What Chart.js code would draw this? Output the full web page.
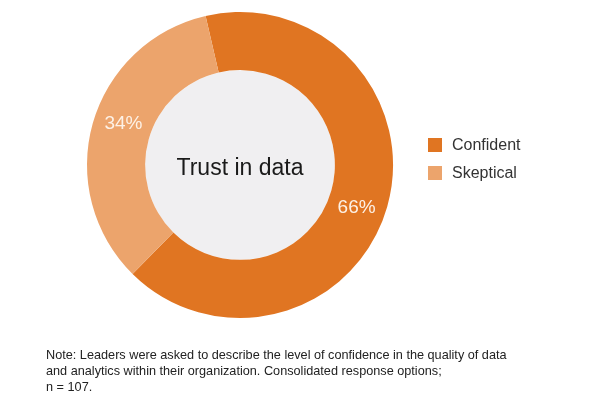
<!DOCTYPE html>
<html>
<head>
<meta charset="utf-8">
<script src="https://cdn.jsdelivr.net/npm/chart.js@4/dist/chart.umd.min.js"></script>
<style>
  html, body { margin: 0; padding: 0; background: #ffffff; }
  #wrap { position: relative; width: 600px; height: 396px; overflow: hidden; }
  #c { position: absolute; left: 0; top: 0; }
  #note { position: absolute; left: 46px; top: 347px; width: 540px;
          font-family: "Liberation Sans", Arial, sans-serif; font-size: 12.7px;
          line-height: 16px; color: #222; }
</style>
</head>
<body>
<div id="wrap">
  <canvas id="c" width="600" height="396"></canvas>
  <div id="note">Note: Leaders were asked to describe the level of confidence in the quality of data<br>and analytics within their organization. Consolidated response options;<br>n = 107.</div>
</div>
<script>
const categories = ["Confident", "Skeptical"];
const shares = [66, 34];
const valueLabels = ["66%", "34%"];
const centerTitle = "Trust in data";
const sliceColors = ["#e07522", "#eca46c"];

const FONT = '"Liberation Sans", Arial, sans-serif';

const decorPlugin = {
  id: 'decor',
  beforeDatasetsDraw(chart) {
    const arc = chart.getDatasetMeta(0).data[0];
    if (!arc) return;
    const ctx = chart.ctx;
    ctx.save();
    ctx.beginPath();
    ctx.arc(arc.x, arc.y, arc.innerRadius, 0, Math.PI * 2);
    ctx.fillStyle = '#f0eff1';
    ctx.fill();
    ctx.restore();
  },
  afterDatasetsDraw(chart) {
    const meta = chart.getDatasetMeta(0);
    const ctx = chart.ctx;
    ctx.save();
    ctx.font = '19px ' + FONT;
    ctx.fillStyle = '#fdf1e6';
    ctx.textAlign = 'center';
    ctx.textBaseline = 'middle';
    meta.data.forEach((a, i) => {
      const mid = (a.startAngle + a.endAngle) / 2 + 4 * Math.PI / 180;
      const r = (a.innerRadius + a.outerRadius) / 2;
      ctx.fillText(valueLabels[i], a.x + Math.cos(mid) * r, a.y + Math.sin(mid) * r + 1);
    });
    const a0 = meta.data[0];
    ctx.fillStyle = '#1a1a1a';
    ctx.font = '23px ' + FONT;
    ctx.fillText(centerTitle, a0.x, a0.y + 4);
    ctx.textAlign = 'left';
    ctx.font = '16px ' + FONT;
    categories.forEach((lab, i) => {
      const y = 145 + i * 28;
      ctx.fillStyle = sliceColors[i];
      ctx.fillRect(428, y - 7, 14, 14);
      ctx.fillStyle = '#333';
      ctx.fillText(lab, 452, y + 1);
    });
    ctx.restore();
  }
};

new Chart(document.getElementById('c'), {
  type: 'doughnut',
  data: {
    labels: categories,
    datasets: [{
      data: shares,
      backgroundColor: sliceColors,
      borderWidth: 0,
      hoverOffset: 0
    }]
  },
  options: {
    responsive: false,
    animation: false,
    rotation: -13,
    cutout: '62%',
    layout: { padding: { left: 87, top: 12, right: 207, bottom: 78 } },
    plugins: { legend: { display: false }, tooltip: { enabled: false } }
  },
  plugins: [decorPlugin]
});
</script>
</body>
</html>
